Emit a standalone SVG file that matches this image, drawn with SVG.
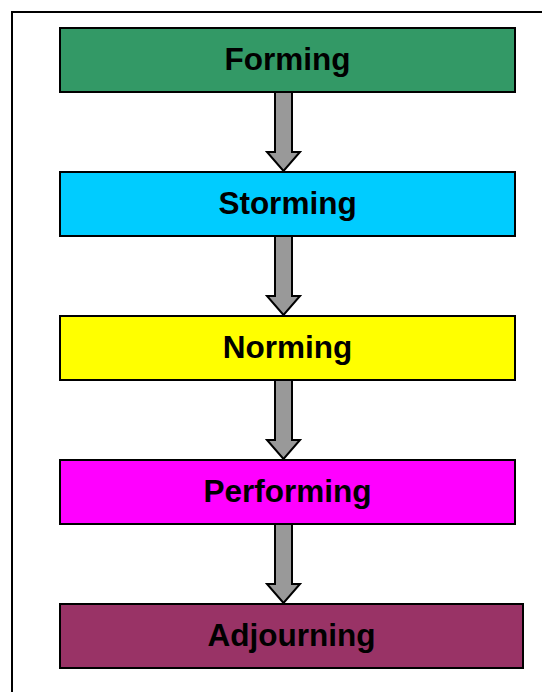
<svg xmlns="http://www.w3.org/2000/svg" width="542" height="692" viewBox="0 0 542 692">
<style>
.box{stroke:#000;stroke-width:2}
.lbl{font-family:"Liberation Sans",Arial,sans-serif;font-weight:bold;font-size:31.5px;text-anchor:middle;fill:#000}
.arr{fill:#999999;stroke:#000;stroke-width:2;stroke-linejoin:miter}
</style>
<rect x="0" y="0" width="542" height="692" fill="#fff"/>
<rect x="12" y="12" width="560" height="700" fill="none" stroke="#000" stroke-width="2"/>
<g id="connectors">
<path class="arr" d="M275,92 V152 H267 L283.5,171 L300,152 H292 V92 Z"/>
<path class="arr" d="M275,236 V296 H267 L283.5,315 L300,296 H292 V236 Z"/>
<path class="arr" d="M275,380 V440 H267 L283.5,459 L300,440 H292 V380 Z"/>
<path class="arr" d="M275,524 V584 H267 L283.5,603 L300,584 H292 V524 Z"/>
</g>
<g id="forming"><rect class="box" x="60" y="28" width="455" height="64" fill="#339966"/><text class="lbl" x="287.5" y="70">Forming</text></g>
<g id="storming"><rect class="box" x="60" y="172" width="455" height="64" fill="#00CCFF"/><text class="lbl" x="287.5" y="214">Storming</text></g>
<g id="norming"><rect class="box" x="60" y="316" width="455" height="64" fill="#FFFF00"/><text class="lbl" x="287.5" y="358">Norming</text></g>
<g id="performing"><rect class="box" x="60" y="460" width="455" height="64" fill="#FF00FF"/><text class="lbl" x="287.5" y="502">Performing</text></g>
<g id="adjourning"><rect class="box" x="60" y="604" width="463" height="64" fill="#993366"/><text class="lbl" x="291.5" y="646">Adjourning</text></g>
</svg>
